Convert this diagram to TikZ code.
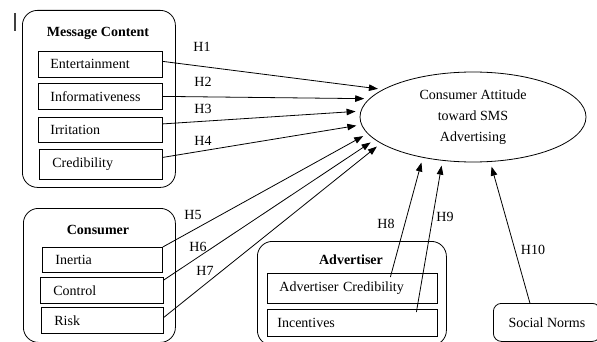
\documentclass[tikz,border=0pt]{standalone}
\usepackage{fontspec}
\setmainfont{Liberation Serif}
\usetikzlibrary{arrows.meta,shapes.geometric}
\begin{document}
\begin{tikzpicture}[x=1pt,y=-1pt,
  font=\fontsize{14}{21}\selectfont,
  group/.style={draw, line width=0.8pt, rounded corners=15pt, inner sep=0pt, anchor=north west},
  item/.style={draw, line width=0.8pt, inner xsep=12pt, inner ysep=0pt, align=left, anchor=north west},
  gtitle/.style={font=\fontsize{14}{16}\selectfont\bfseries, inner sep=0pt},
  arr/.style={-{Triangle[length=9pt,width=6.5pt]}, line width=0.8pt, shorten >=5pt},
  hlab/.style={inner sep=0pt}]
\useasboundingbox (0,0) rectangle (597,342);
\clip (0,0) rectangle (597,342);

% stray mark
\draw[line width=1.4pt, black!75] (15,13) -- (15,31);

% Message Content group
\node[group, minimum width=153pt, minimum height=177pt] (mc) at (22,10) {};
\node[gtitle] (mct) at (98,33) {Message Content};
\node[item, text width=100pt, minimum height=26pt] (ent) at (38,51) {Entertainment};
\node[item, text width=100pt, minimum height=26pt] (inf) at (38,83) {Informativeness};
\node[item, text width=100pt, minimum height=25pt] (irr) at (38,117) {Irritation};
\node[item, text width=97pt, inner xsep=13pt, minimum height=30pt] (cred) at (39,149) {Credibility};

% Consumer group
\node[group, minimum width=152pt, minimum height=134pt] (cg) at (23,208) {};
\node[gtitle] (cgt) at (98,230) {Consumer};
\node[item, text width=94pt, inner xsep=13pt, minimum height=25pt] (iner) at (42,247) {Inertia};
\node[item, text width=97pt, inner xsep=13pt, minimum height=26pt] (ctrl) at (40,277) {Control};
\node[item, text width=96pt, inner xsep=13pt, minimum height=26pt] (risk) at (41,307) {Risk};

% Advertiser group
\node[group, minimum width=189pt, minimum height=104pt] (ag) at (257,241) {};
\node[gtitle] (agt) at (351,260) {Advertiser};
\node[item, text width=146pt, minimum height=30pt] (acred) at (267,273) {Advertiser Credibility};
\node[item, text width=150pt, inner xsep=10pt, minimum height=27pt] (inc) at (267,309) {Incentives};

% Social Norms
\node[draw, line width=0.8pt, rounded corners=8pt, minimum width=107pt, minimum height=38pt, anchor=north west, inner sep=0pt] (soc) at (493,303) {Social Norms};

% Outcome
\node[draw, ellipse, line width=0.8pt, minimum width=226pt, minimum height=90pt, align=center, inner sep=0pt] (att) at (473,117) {\raisebox{-3pt}{\parbox{110pt}{\centering Consumer Attitude\\toward SMS\\Advertising}}};

% Hypothesis arrows
\draw[arr] ([yshift=3pt]ent.east) -- (att.163);
\draw[arr] (inf.east) -- (att.170);
\draw[arr] ([yshift=6pt]irr.east) -- (att.177);
\draw[arr] ([yshift=7pt]cred.east) -- (att.184);
\draw[arr] (iner.north east) -- (att.189);
\draw[arr] ([yshift=-3pt]ctrl.north east) -- (att.193);
\draw[arr] ([yshift=3pt]risk.east) -- (att.196);
\draw[arr] ([xshift=38pt,yshift=-4pt]acred.north) -- (att.219);
\draw[arr] ([xshift=64pt,yshift=-3pt]inc.north) -- (att.235);
\draw[arr] ([xshift=-17pt]soc.north) -- (att.291);

% Labels
\node[hlab] (h1) at (202,47) {H1};
\node[hlab] (h2) at (203,82) {H2};
\node[hlab] (h3) at (203,109) {H3};
\node[hlab] (h4) at (203,141) {H4};
\node[hlab] (h5) at (193,215) {H5};
\node[hlab] (h6) at (198,247) {H6};
\node[hlab] (h7) at (205,271) {H7};
\node[hlab] (h8) at (386,224) {H8};
\node[hlab] (h9) at (445,217) {H9};
\node[hlab] (h10) at (533,250) {H10};
\end{tikzpicture}
\end{document}
